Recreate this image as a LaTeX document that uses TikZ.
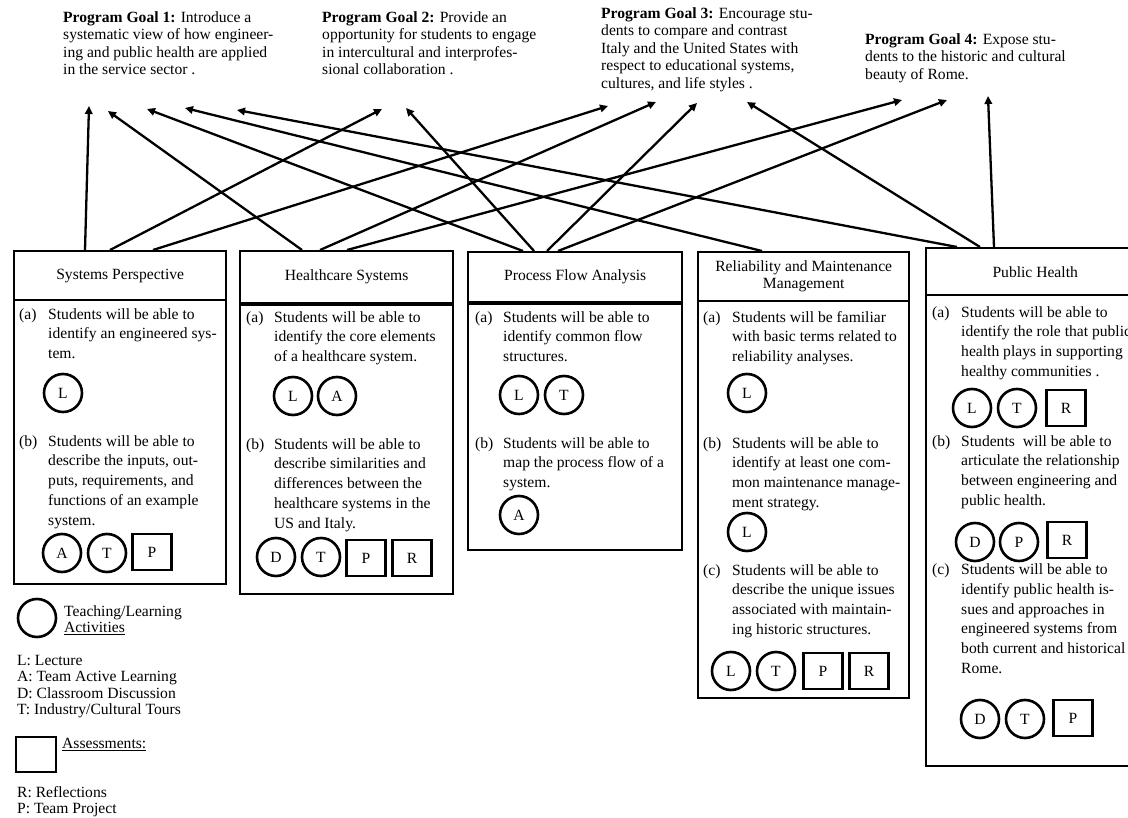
\documentclass[tikz,border=0pt]{standalone}
\usepackage{fontspec}
\setmainfont{Liberation Serif}
\usetikzlibrary{arrows.meta}
\newcommand\bxf{\fontsize{15.6}{19.7}\selectfont}
\newcommand\glf{\fontsize{15.6}{17.5}\selectfont}
\newcommand\lgf{\fontsize{15.6}{16.5}\selectfont}
\newcommand\hdf{\fontsize{15.6}{17}\selectfont}
\newcommand\tp{\rule{0pt}{11.5pt}}
\begin{document}
\begin{tikzpicture}[x=1pt,y=-1pt,
  arr/.style={line width=2.3pt, -{Triangle[length=8pt,width=7.5pt]}},
  frame/.style={draw, line width=2.4pt, rectangle, inner sep=0, anchor=north west, font=\hdf, align=center},
  txt/.style={anchor=north west, inner sep=0, align=left, font=\bxf},
  goal/.style={anchor=north west, inner sep=0, align=left, font=\glf},
  leg/.style={anchor=north west, inner sep=0, align=left, font=\lgf},
  circ/.style={draw, circle, line width=2.6pt, minimum size=38pt, inner sep=0, font=\bxf},
  sq/.style={draw, rectangle, line width=2.4pt, minimum width=39pt, minimum height=36pt, inner sep=0, font=\bxf},
]
\useasboundingbox (0,0) rectangle (1128,818);

% ---------- goals ----------
\node[goal] (g1) at (63,10.5) {\tp\textbf{Program Goal 1:} Introduce a\\systematic view of how engineer-\\ing and public health are applied\\in the service sector .};
\node[goal] (g2) at (322,10.5) {\tp\textbf{Program Goal 2:} Provide an\\opportunity\ for students to engage\\in intercultural and interprofes-\\sional collaboration .};
\node[goal] (g3) at (601,6.5) {\tp\textbf{Program Goal 3:} Encourage stu-\\dents to compare and contrast\\Italy and the United States with\\respect to educational systems,\\cultures, and life styles .};
\node[goal] (g4) at (865,32.5) {\tp\textbf{Program Goal 4:} Expose stu-\\dents to the historic and cultural\\beauty of Rome.};

% ---------- boxes ----------
\node[frame, minimum width=212pt, minimum height=49pt] (h1) at (13,250) {Systems Perspective};
\node[frame, minimum width=212pt, minimum height=284pt] (b1) at (13,299) {};
\node[frame, minimum width=213pt, minimum height=52pt] (h2) at (239,250) {Healthcare Systems};
\node[frame, minimum width=213pt, minimum height=291pt] (b2) at (239,302) {};
\node[frame, minimum width=214pt, minimum height=50pt] (h3) at (467,251) {Process Flow Analysis};
\node[frame, minimum width=214pt, minimum height=248pt] (b3) at (467,301) {};
\node[frame, minimum width=211pt, minimum height=49pt] (h4) at (697,251) {Reliability and Maintenance\\Management};
\node[frame, minimum width=211pt, minimum height=397pt] (b4) at (697,300) {};
\node[frame, minimum width=218pt, minimum height=47pt] (h5) at (925,247) {Public Health};
\node[frame, minimum width=218pt, minimum height=471pt] (b5) at (925,294) {};
\draw[line width=4pt] (h2.south west) -- (h2.south east);
\draw[line width=3.6pt] (h3.south west) -- (h3.south east);

% ---------- box 1 ----------
\node[txt] (l1a) at (19,307.5) {\tp(a)};
\node[txt] (t1a) at (48,307.5) {\tp Students will be able to\\identify an engineered sys-\\tem.};
\node[circ] (c1a1) at (63,393) {L};
\node[txt] (l1b) at (19,434.5) {\tp(b)};
\node[txt] (t1b) at (48,434.5) {\tp Students will be able to\\describe the inputs, out-\\puts, requirements, and\\functions of an example\\system.};
\node[circ] (c1b1) at (62,553) {A};
\node[circ] (c1b2) at (107,553) {T};
\node[sq] (c1b3) at (152,552) {P};

% ---------- box 2 ----------
\node[txt] (l2a) at (246,310.5) {\tp(a)};
\node[txt] (t2a) at (274,310.5) {\tp Students will be able to\\identify the core elements\\of a healthcare system.};
\node[circ] (c2a1) at (293,396) {L};
\node[circ] (c2a2) at (337,396) {A};
\node[txt] (l2b) at (246,437.5) {\tp(b)};
\node[txt] (t2b) at (274,437.5) {\tp Students will be able to\\describe similarities and\\differences between the\\healthcare systems in the\\US and Italy.};
\node[circ] (c2b1) at (276,557) {D};
\node[circ] (c2b2) at (321,557) {T};
\node[sq] (c2b3) at (366,558) {P};
\node[sq] (c2b4) at (412,558) {R};

% ---------- box 3 ----------
\node[txt] (l3a) at (475,310.5) {\tp(a)};
\node[txt] (t3a) at (503,310.5) {\tp Students will be able to\\identify common flow\\structures.};
\node[circ] (c3a1) at (519,395) {L};
\node[circ] (c3a2) at (564,395) {T};
\node[txt] (l3b) at (475,436.5) {\tp(b)};
\node[txt] (t3b) at (503,436.5) {\tp Students will be able to\\map the process flow of a\\system.};
\node[circ] (c3b1) at (519,515) {A};

% ---------- box 4 ----------
\node[txt] (l4a) at (703,310.5) {\tp(a)};
\node[txt] (t4a) at (732,310.5) {\tp Students will be familiar\\with basic terms related to\\reliability analyses.};
\node[circ] (c4a1) at (747,393) {L};
\node[txt] (l4b) at (703,436.5) {\tp(b)};
\node[txt] (t4b) at (732,436.5) {\tp Students will be able to\\identify at least one com-\\mon maintenance manage-\\ment strategy.};
\node[circ] (c4b1) at (747,532) {L};
\node[txt] (l4c) at (703,563.5) {\tp(c)};
\node[txt] (t4c) at (732,563.5) {\tp Students will be able to\\describe the unique issues\\associated with maintain-\\ing historic structures.};
\node[circ] (c4c1) at (731,671) {L};
\node[circ] (c4c2) at (776,671) {T};
\node[sq] (c4c3) at (823,671) {P};
\node[sq] (c4c4) at (869,671) {R};

% ---------- box 5 ----------
\node[txt] (l5a) at (932,305.5) {\tp(a)};
\node[txt] (t5a) at (961,305.5) {\tp Students will be able to\\identify the role that public\\health plays in supporting\\healthy communities .};
\node[circ] (c5a1) at (972,408) {L};
\node[circ] (c5a2) at (1017,408) {T};
\node[sq] (c5a3) at (1066,408) {R};
\node[txt] (l5b) at (932,434.5) {\tp(b)};
\node[txt] (t5b) at (961,434.5) {\tp Students\ \ will be able to\\articulate the relationship\\between engineering and\\public health.};
\node[circ] (c5b1) at (975,542) {D};
\node[circ] (c5b2) at (1019,542) {P};
\node[sq] (c5b3) at (1067,540) {R};
\node[txt] (l5c) at (932,563) {\tp(c)};
\node[txt] (t5c) at (961,563) {\tp Students will be able to\\identify public health is-\\sues and approaches in\\engineered systems from\\both current and historical\\Rome.};
\node[circ] (c5c1) at (980,719) {D};
\node[circ] (c5c2) at (1025,719) {T};
\node[sq] (c5c3) at (1073,718) {P};

% ---------- legend ----------
\node[circ] (lc) at (37,618) {};
\node[leg] (lct) at (64,604.5) {\tp Teaching/Learning\\\underline{Activities}};
\node[leg] (lcl) at (17,653.5) {\tp L: Lecture\\A: Team Active Learning\\D: Classroom Discussion\\T: Industry/Cultural Tours};
\node[sq, minimum width=40pt, minimum height=35pt] (ls) at (36,754.5) {};
\node[leg] (lst) at (62,736.5) {\tp\underline{Assessments:}};
\node[leg] (lsl) at (17,785.5) {\tp R: Reflections\\P: Team Project};

% ---------- arrow ends ----------
\coordinate (s1) at (85,250);   \coordinate (t1) at (89,106);
\coordinate (s2) at (110,250);  \coordinate (t2) at (382,109);
\coordinate (s3) at (153,250);  \coordinate (t3) at (608,106);
\coordinate (s4) at (302,250);  \coordinate (t4) at (108,111);
\coordinate (s5) at (320,250);  \coordinate (t5) at (656,102);
\coordinate (s6) at (347,250);  \coordinate (t6) at (902,100);
\coordinate (s7) at (523,251);  \coordinate (t7) at (147,109);
\coordinate (s8) at (534,251);  \coordinate (t8) at (406,108);
\coordinate (s9) at (547,251);  \coordinate (t9) at (697,103);
\coordinate (s10) at (558,251); \coordinate (t10) at (947,100);
\coordinate (s11) at (762,251); \coordinate (t11) at (185,108);
\coordinate (s12) at (957,247); \coordinate (t12) at (237,110);
\coordinate (s13) at (980,247); \coordinate (t13) at (747,102);
\coordinate (s14) at (994,247); \coordinate (t14) at (988,96);
\foreach \i in {1,...,14} {\draw[arr] (s\i) -- (t\i);}
\end{tikzpicture}
\end{document}
